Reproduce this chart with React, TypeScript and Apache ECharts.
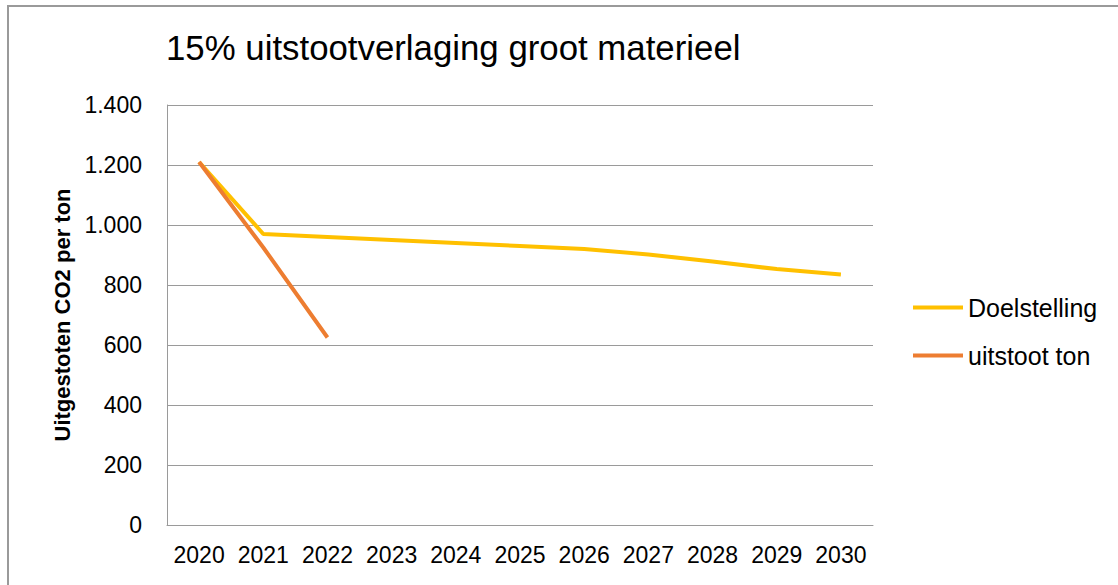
import React, { useEffect, useRef } from "react";
import * as echarts from "echarts";

const years = ["2020", "2021", "2022", "2023", "2024", "2025", "2026", "2027", "2028", "2029", "2030"];
const doelstelling = [1210, 970, 960, 950, 940, 930, 920, 902, 878, 853, 835];
const uitstootTon = [1210, 925, 625];
const title = "15% uitstootverlaging groot materieel";
const yAxisName = "Uitgestoten CO2 per ton";
const FONT = "'Liberation Sans', Arial, sans-serif";

export default function App() {
  const ref = useRef<HTMLDivElement>(null);
  useEffect(() => {
    if (!ref.current) return;
    const chart = echarts.init(ref.current, null, { renderer: "svg" });
    chart.setOption({
      animation: false,
      backgroundColor: "#ffffff",
      textStyle: { fontFamily: FONT },
      title: {
        text: title,
        left: 161,
        top: 25,
        textStyle: { fontFamily: FONT, fontSize: 34.8, fontWeight: "normal", color: "#000" },
      },
      graphic: [
        {
          type: "polyline",
          shape: { points: [[8, 600], [8, 6], [1130, 6]] },
          style: { stroke: "#9a9a9a", lineWidth: 2, fill: "none" },
          silent: true,
        },
      ],
      legend: {
        orient: "vertical",
        left: 908,
        top: 290,
        icon: "rect",
        itemWidth: 50,
        itemHeight: 4,
        itemGap: 23,
        textStyle: { fontFamily: FONT, fontSize: 25, color: "#000" },
        data: ["Doelstelling", "uitstoot ton"],
      },
      grid: { left: 167, right: 245, top: 105, bottom: 60, containLabel: false },
      xAxis: {
        type: "category",
        data: years,
        boundaryGap: true,
        axisLine: { show: true, lineStyle: { color: "#9a9a9a", width: 1 } },
        axisTick: { show: false },
        axisLabel: { fontFamily: FONT, fontSize: 23, color: "#000", margin: 18, interval: 0 },
      },
      yAxis: {
        type: "value",
        min: 0,
        max: 1400,
        interval: 200,
        name: yAxisName,
        nameLocation: "middle",
        nameGap: 94,
        nameTextStyle: { fontFamily: FONT, fontSize: 22, fontWeight: "bold", color: "#000" },
        axisLine: { show: true, lineStyle: { color: "#9a9a9a", width: 1 } },
        axisTick: { show: false },
        axisLabel: {
          fontFamily: FONT,
          fontSize: 23,
          color: "#000",
          margin: 25,
          formatter: (v: number) => v.toLocaleString("de-DE"),
        },
        splitLine: { show: true, lineStyle: { color: "#9a9a9a", width: 1 } },
      },
      series: [
        {
          name: "Doelstelling",
          type: "line",
          data: doelstelling,
          symbol: "none",
          lineStyle: { color: "#FFC000", width: 4 },
          itemStyle: { color: "#FFC000" },
        },
        {
          name: "uitstoot ton",
          type: "line",
          data: uitstootTon,
          symbol: "none",
          lineStyle: { color: "#ED7D31", width: 4 },
          itemStyle: { color: "#ED7D31" },
        },
      ],
    });
    return () => chart.dispose();
  }, []);
  return (
    <div
      ref={ref}
      style={{ position: "fixed", left: 0, top: 0, width: 1118, height: 585 }}
    />
  );
}
